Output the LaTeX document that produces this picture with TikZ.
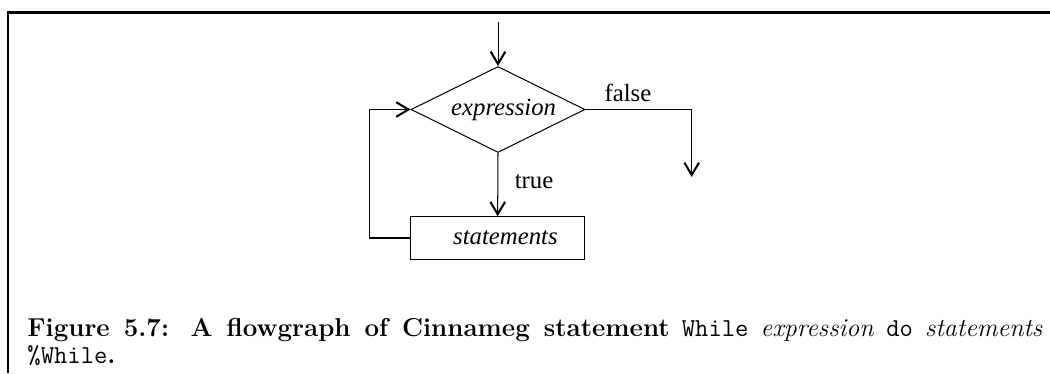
\documentclass[tikz,border=0pt]{standalone}
\usepackage{fontspec}
\newfontfamily\tms{Liberation Serif}
\usetikzlibrary{shapes.geometric,arrows.meta}
\tikzset{
  plain/.style={line width=0.45pt},
  flow/.style={plain, -{Straight Barb[length=5.5pt,width=6.5pt,line width=0.9pt]}},
  lbl/.style={font=\tms\fontsize{11}{13}\selectfont},
}
\begin{document}
\begin{tikzpicture}[x=0.4444pt,y=-0.4444pt]
\useasboundingbox (0,0) rectangle (1050,373);
\draw [line width=1.3pt] (8,373) -- (8,12.5) -- (1050,12.5);

\coordinate (top) at (498,22);
\node [draw, plain, diamond, aspect=2, inner sep=0pt, minimum width=77.3pt, minimum height=38.2pt, lbl] (expr) at (498,109.5) {\hspace*{5pt}\itshape expression};
\node [draw, plain, rectangle, minimum width=77.2pt, minimum height=18.9pt, lbl] (stmts) at (497.5,238) {\hspace*{7pt}\itshape statements};
\coordinate (out) at (691.7,177);
\coordinate (back) at (369,238);
\draw [flow] (top) -- (expr.north);
\draw [flow] (expr.south) -- node [lbl, right=4pt, pos=0.45] {true} (stmts);
\draw [flow] (expr.east) -| node [lbl, above, pos=0.2] {false} (out);
\draw [flow] (stmts.west) -- (back) |- (expr.west);

\node [anchor=north west, inner sep=0pt, text width=451pt, align=justify, font=\fontsize{11.5}{12}\selectfont] (cap) at (27,318) {\textbf{Figure 5.7: A flowgraph of Cinnameg statement} \texttt{While} \textit{expression} \texttt{do} \textit{statements} \texttt{\%While}\textbf{.}};
\end{tikzpicture}
\end{document}
